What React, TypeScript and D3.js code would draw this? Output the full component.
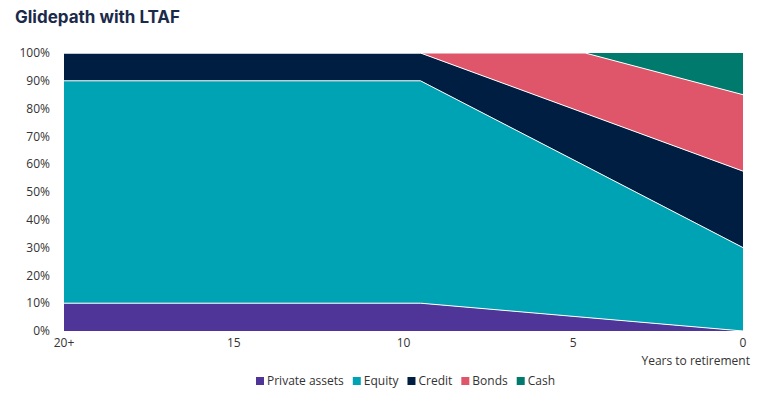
import React from "react";
import * as d3 from "d3";

const years = [20, 9.5, 4.65, 0];
const privateAssets = [10, 10, 4.9, 0];
const equity = [80, 80, 54.5, 30];
const credit = [10, 10, 18.9, 27.5];
const bonds = [0, 0, 21.7, 27.5];
const cash = [0, 0, 0, 15];

const seriesNames = ["Private assets", "Equity", "Credit", "Bonds", "Cash"];
const seriesValues = [privateAssets, equity, credit, bonds, cash];
const colors = ["#4f3597", "#00a3b4", "#001e42", "#df566b", "#007a6c"];

const xTickValues = [20, 15, 10, 5, 0];
const xTickLabels = ["20+", "15", "10", "5", "0"];
const yTicks = [0, 10, 20, 30, 40, 50, 60, 70, 80, 90, 100];

const W = 757;
const H = 396;
const M = { left: 64, right: 14, top: 53, bottom: 65 };
const font = "'Open Sans', 'Noto Sans', sans-serif";

function measure(text: string, size: number): number {
  try {
    const c = document.createElement("canvas").getContext("2d");
    if (c) {
      c.font = `${size}px 'Open Sans', 'Noto Sans', sans-serif`;
      return c.measureText(text).width;
    }
  } catch (e) {}
  return text.length * size * 0.55;
}

export default function App() {
  const x = d3.scaleLinear().domain([20, 0]).range([M.left, W - M.right]);
  const y = d3.scaleLinear().domain([0, 100]).range([H - M.bottom, M.top]);

  const table = years.map((yr, i) => {
    const row: any = { year: yr };
    seriesNames.forEach((n, k) => (row[n] = seriesValues[k][i]));
    return row;
  });
  const stack = d3.stack<any>().keys(seriesNames)(table);
  const area = d3
    .area<any>()
    .x((d) => x(d.data.year))
    .y0((d) => y(d[0]))
    .y1((d) => y(d[1]));
  const topLine = d3
    .line<any>()
    .x((d) => x(d.data.year))
    .y((d) => y(d[1]));

  const legendSize = 12;
  let lx = 256;
  const legendPos = seriesNames.map((n) => {
    const p = lx;
    lx += 11 + measure(n, legendSize) + 9;
    return p;
  });

  return (
    <svg width={W} height={H} style={{ position: "absolute", left: 0, top: 0 }}>
      <rect width={W} height={H} fill="#fff" />
      <text x={15} y={23} fontFamily="Inter, 'Open Sans', sans-serif" fontWeight={700} fontSize={17} fill="#1b2a4a">
        Glidepath with LTAF
      </text>
      {stack.map((s, k) => (
        <path key={k} d={area(s) || ""} fill={colors[k]} />
      ))}
      {stack.slice(0, 4).map((s, k) => (
        <path key={"l" + k} d={topLine(s) || ""} fill="none" stroke="#fff" strokeWidth={1} />
      ))}
      {yTicks.map((t) => (
        <text key={t} x={50} y={y(t)} dy="0.35em" textAnchor="end" fontFamily={font} fontSize={12} fill="#333">
          {t}%
        </text>
      ))}
      {xTickValues.map((t, i) => (
        <text key={t} x={x(t)} y={347} textAnchor="middle" fontFamily={font} fontSize={12} fill="#333">
          {xTickLabels[i]}
        </text>
      ))}
      <text x={750} y={365} textAnchor="end" fontFamily={font} fontSize={12} fill="#333">
        Years to retirement
      </text>
      {seriesNames.map((n, k) => (
        <g key={n} transform={`translate(${legendPos[k]},381)`}>
          <rect x={0} y={-4} width={8} height={8} fill={colors[k]} />
          <text x={11} y={0} dy="0.35em" fontFamily={font} fontSize={legendSize} fill="#333">
            {n}
          </text>
        </g>
      ))}
    </svg>
  );
}
